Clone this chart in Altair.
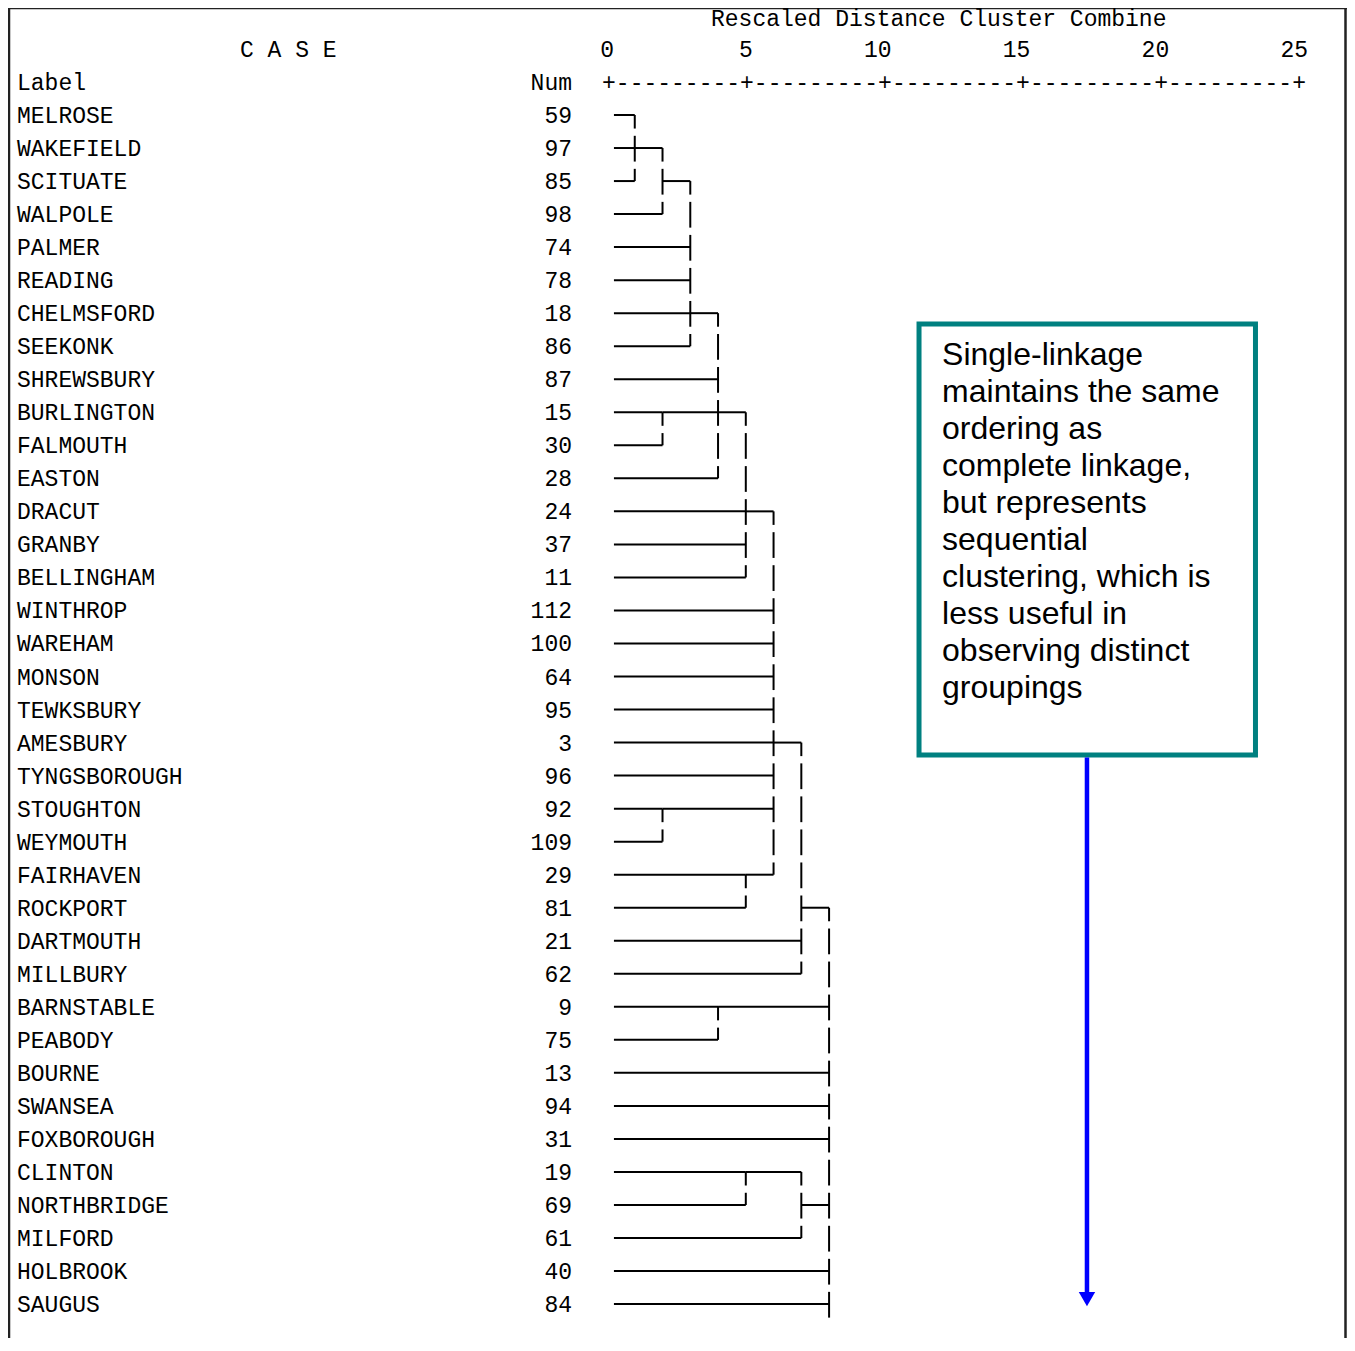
import altair as alt
import pandas as pd

# ---------------- data ----------------
labels = ["MELROSE", "WAKEFIELD", "SCITUATE", "WALPOLE", "PALMER", "READING",
          "CHELMSFORD", "SEEKONK", "SHREWSBURY", "BURLINGTON", "FALMOUTH", "EASTON",
          "DRACUT", "GRANBY", "BELLINGHAM", "WINTHROP", "WAREHAM", "MONSON",
          "TEWKSBURY", "AMESBURY", "TYNGSBOROUGH", "STOUGHTON", "WEYMOUTH", "FAIRHAVEN",
          "ROCKPORT", "DARTMOUTH", "MILLBURY", "BARNSTABLE", "PEABODY", "BOURNE",
          "SWANSEA", "FOXBOROUGH", "CLINTON", "NORTHBRIDGE", "MILFORD", "HOLBROOK", "SAUGUS"]
nums = [59, 97, 85, 98, 74, 78, 18, 86, 87, 15, 30, 28, 24, 37, 11, 112, 100, 64,
        95, 3, 96, 92, 109, 29, 81, 21, 62, 9, 75, 13, 94, 31, 19, 69, 61, 40, 84]
ticks = [0, 5, 10, 15, 20, 25]

# merges (single linkage, rescaled distance); children are case rows (int) or earlier clusters
merge_ids = ["A", "B", "C", "D1", "E", "F", "D2", "D3", "G", "H", "D4", "D5", "D6", "I"]
merge_dist = [1, 2, 3, 2, 4, 5, 2, 5, 6, 7, 4, 5, 7, 8]
merge_row = [1, 2, 6, 9, 9, 12, 21, 23, 19, 24, 27, 32, 33, 36]
merge_kids = [[0, 1, 2], ["A", 3], ["B", 4, 5, 6, 7], [9, 10], ["C", 8, "D1", 11],
              ["E", 12, 13, 14], [21, 22], [23, 24],
              ["F", 15, 16, 17, 18, 19, 20, "D2", "D3"], ["G", 25, 26], [27, 28],
              [32, 33], ["D5", 34], ["H", "D4", 29, 30, 31, "D6", 35, 36]]
merge_open = [False] * 13 + [True]  # last cluster continues below the visible rows

annotation_lines = ["Single-linkage", "maintains the same", "ordering as",
                    "complete linkage,", "but represents", "sequential",
                    "clustering, which is", "less useful in", "observing distinct",
                    "groupings"]

# ---------------- layout ----------------
W, H = 1339, 1330
PX_PER_UNIT = 27.76
X0 = 599
ROW_PX = 33.03
Y0 = 107
xs = alt.Scale(domain=[-X0 / PX_PER_UNIT, (W - X0) / PX_PER_UNIT], nice=False, zero=False)
ys = alt.Scale(domain=[-Y0 / ROW_PX, (H - Y0) / ROW_PX], nice=False, zero=False, reverse=True)
LEAF_START = 0.25
MONO = "Liberation Mono"
FS = 23

# ---------------- build dendrogram segments ----------------
row_of, dist_of = {}, {}
h_rows, v_rows = [], []
for mid, d, conn, kids, op in zip(merge_ids, merge_dist, merge_row, merge_kids, merge_open):
    krows = []
    for k in kids:
        if isinstance(k, int):
            start, r = LEAF_START, k
        else:
            start, r = dist_of[k], row_of[k]
        h_rows.append(dict(x=start, x2=d, y=r))
        krows.append(r)
    lo, hi = min(krows + [conn]), max(krows + [conn])
    for r in range(lo, hi + 1):
        top = r - 0.37 if r > lo else r
        bot = r + 0.41 if (r < hi or op) else r
        v_rows.append(dict(x=d, y=top, y2=bot))
    row_of[mid] = conn
    dist_of[mid] = d

X = lambda f: alt.X(f, scale=xs, axis=None)
Y = lambda f: alt.Y(f, scale=ys, axis=None)

hlines = alt.Chart(pd.DataFrame(h_rows)).mark_rule(color="#000", strokeWidth=2).encode(
    x=X("x:Q"), x2="x2:Q", y=Y("y:Q"))
vlines = alt.Chart(pd.DataFrame(v_rows)).mark_rule(color="#000", strokeWidth=2).encode(
    x=X("x:Q"), y=Y("y:Q"), y2="y2:Q")

cases = pd.DataFrame({"row": list(range(len(labels))), "label": labels,
                      "num": [str(n) for n in nums]})
txt = dict(font=MONO, fontSize=FS, color="#000", baseline="alphabetic", dy=8)
label_text = alt.Chart(cases).mark_text(align="left", **txt).encode(
    x=alt.value(9), y=Y("row:Q"), text="label:N")
num_text = alt.Chart(cases).mark_text(align="right", **txt).encode(
    x=alt.value(564), y=Y("row:Q"), text="num:N")

hdr1 = pd.DataFrame({"row": [-1]})
label_hdr = alt.Chart(hdr1).mark_text(align="left", text="Label", **txt).encode(
    x=alt.value(9), y=Y("row:Q"))
num_hdr = alt.Chart(hdr1).mark_text(align="right", text="Num", **txt).encode(
    x=alt.value(564), y=Y("row:Q"))
bar_str = "+" + "---------+" * (len(ticks) - 1)
bar_hdr = alt.Chart(pd.DataFrame({"row": [-1], "x": [(ticks[0] + ticks[-1]) / 2]})).mark_text(
    align="center", text=bar_str, **txt).encode(x=X("x:Q"), y=Y("row:Q"))

case_hdr = alt.Chart(pd.DataFrame({"row": [-2]})).mark_text(
    align="left", text="C A S E", **txt).encode(x=alt.value(232), y=Y("row:Q"))
tick_df = pd.DataFrame({"t": ticks, "lab": [str(t) for t in ticks], "row": [-2] * len(ticks)})
tick_text = alt.Chart(tick_df).mark_text(align="right", font=MONO, fontSize=FS, color="#000",
                                         baseline="alphabetic", dy=8, dx=7).encode(
    x=X("t:Q"), y=Y("row:Q"), text="lab:N")
title_text = alt.Chart(pd.DataFrame({"row": [-3]})).mark_text(
    align="left", text="Rescaled Distance Cluster Combine", font=MONO, fontSize=FS,
    color="#000", baseline="alphabetic", dy=10).encode(
    x=alt.value(703), y=Y("row:Q"))

# frame
frame_v = alt.Chart(pd.DataFrame({"px": [1, W - 1.5]})).mark_rule(color="#222", strokeWidth=2.5).encode(
    x=alt.X("px:Q", scale=None), y=alt.value(0), y2=alt.value(H))
frame_t = alt.Chart(pd.DataFrame({"a": [0]})).mark_rule(color="#222", strokeWidth=1.5).encode(
    x=alt.value(0), x2=alt.value(W), y=alt.value(0.5))

# annotation box + arrow
box = alt.Chart(pd.DataFrame({"x": [11.24], "x2": [23.36], "y": [6.33], "y2": [19.38]})).mark_rect(
    fill="white", stroke="#008080", strokeWidth=5).encode(
    x=X("x:Q"), x2="x2:Q", y=Y("y:Q"), y2="y2:Q")
note = alt.Chart(pd.DataFrame({"x": [12.07], "y": [7.57]})).mark_text(
    align="left", baseline="alphabetic", font="Liberation Sans", fontSize=32,
    lineHeight=37, color="#000", text=annotation_lines).encode(x=X("x:Q"), y=Y("y:Q"))
shaft = alt.Chart(pd.DataFrame({"x": [17.29], "y": [19.45], "y2": [35.72]})).mark_rule(
    color="#0000FF", strokeWidth=4.5).encode(x=X("x:Q"), y=Y("y:Q"), y2="y2:Q")
head = alt.Chart(pd.DataFrame({"x": [17.29], "y": [35.85]})).mark_point(
    shape="triangle-down", filled=True, size=270, color="#0000FF", opacity=1).encode(
    x=X("x:Q"), y=Y("y:Q"))

chart = alt.layer(
    frame_v, frame_t, hlines, vlines, label_text, num_text, label_hdr, num_hdr, bar_hdr,
    case_hdr, tick_text, title_text, box, note, shaft, head
).properties(
    width=W, height=H, padding=0, autosize=alt.AutoSizeParams(type="none"),
    background="white"
).configure_view(stroke=None)

chart.save("out.html", embed_options={"renderer": "svg", "actions": False})
